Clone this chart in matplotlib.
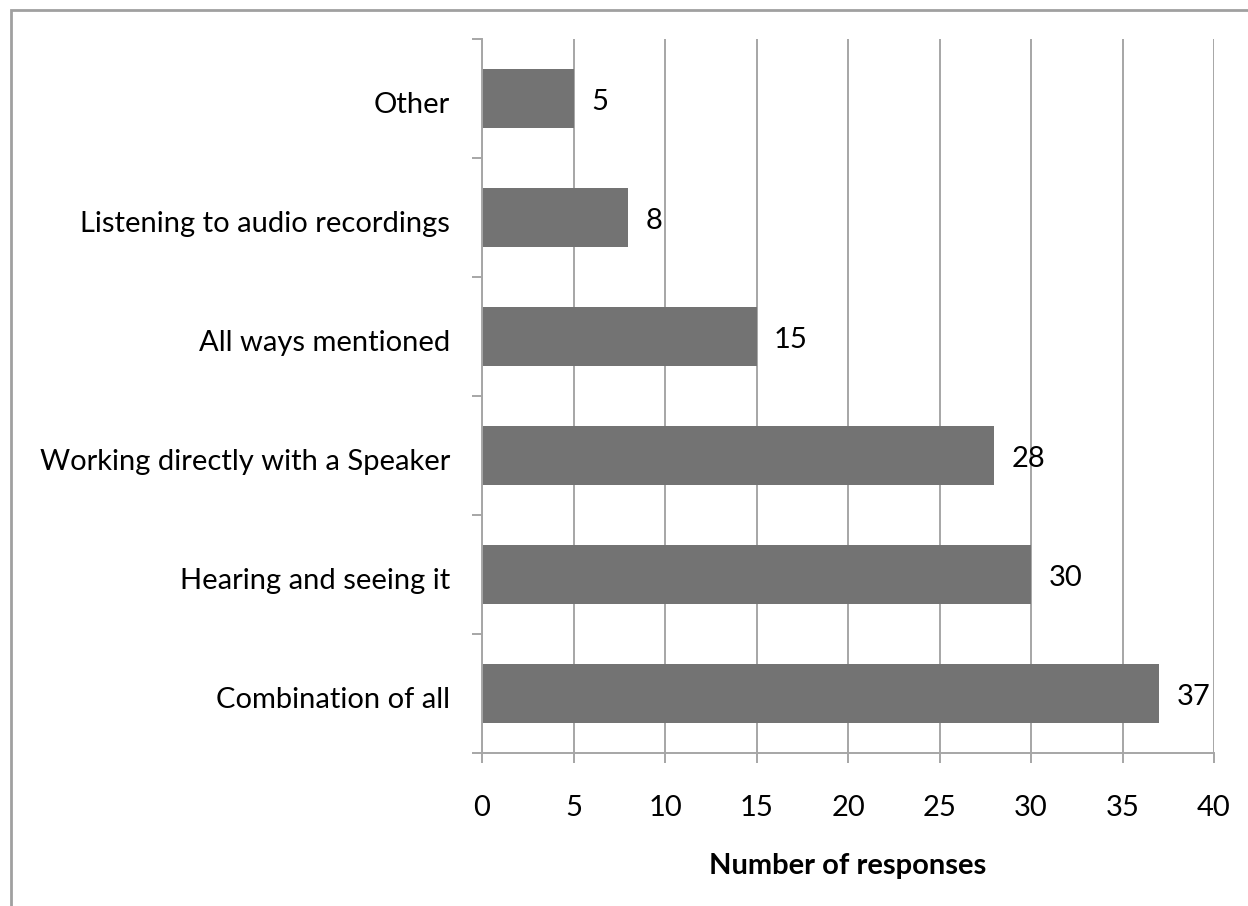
import matplotlib
matplotlib.use("Agg")
import matplotlib.pyplot as plt
from matplotlib.patches import Rectangle
from matplotlib.transforms import ScaledTranslation

categories = [
    "Combination of all",
    "Hearing and seeing it",
    "Working directly with a Speaker",
    "All ways mentioned",
    "Listening to audio recordings",
    "Other",
]
responses = [37, 30, 28, 15, 8, 5]
x_ticks = [0, 5, 10, 15, 20, 25, 30, 35, 40]

W, H = 1248, 906
fig = plt.figure(figsize=(W / 100, H / 100), dpi=100)
plt.rcParams["font.family"] = ["Lato", "DejaVu Sans"]
FS = 21

L, R, T, B = 482, 1214, 39, 753
ax = fig.add_axes([L / W, 1 - B / H, (R - L) / W, (B - T) / H])

grid_c = "#a6a6a6"
bar_c = "#737373"

ypos = list(range(len(categories)))
ax.barh(ypos, responses, height=0.5, color=bar_c, zorder=3)
ax.set_xlim(0, 40)
ax.set_ylim(-0.5, len(categories) - 0.5)

ax.set_xticks(x_ticks)
ax.set_xticklabels([str(v) for v in x_ticks], fontsize=FS)
ax.xaxis.grid(True, color=grid_c, linewidth=1.4, zorder=0)
ax.tick_params(axis="x", length=7, width=1.4, color=grid_c, pad=23, labelcolor="black")

ax.set_yticks([y - 0.5 for y in range(len(categories) + 1)])
ax.set_yticklabels([])
ax.set_yticks(ypos, minor=True)
ax.set_yticklabels(categories, minor=True, fontsize=FS)
ax.tick_params(axis="y", which="major", length=7, width=1.4, color=grid_c)
ax.tick_params(axis="y", which="minor", length=0, pad=23)
nudge = ScaledTranslation(0, -3 / 72, fig.dpi_scale_trans)
for lab in ax.get_yticklabels(minor=True):
    lab.set_transform(lab.get_transform() + nudge)

for s in ["top", "right"]:
    ax.spines[s].set_visible(False)
for s in ["left", "bottom"]:
    ax.spines[s].set_color(grid_c)
    ax.spines[s].set_linewidth(1.4)
    ax.spines[s].set_zorder(4)

for y, v in zip(ypos, responses):
    ax.annotate(str(v), (v, y), xytext=(12.5, -2.5), textcoords="offset points",
                va="center", ha="left", fontsize=FS, zorder=5)

ax.set_xlabel("Number of responses", fontsize=FS, fontweight="bold", labelpad=23)

fig.patches.append(Rectangle((10.5 / W, -0.5), 2, 1.5 - 9.5 / H, transform=fig.transFigure,
                             fill=False, edgecolor="#a0a0a0", linewidth=2, clip_on=False))

fig.savefig("out.png", dpi=100, facecolor="white")
